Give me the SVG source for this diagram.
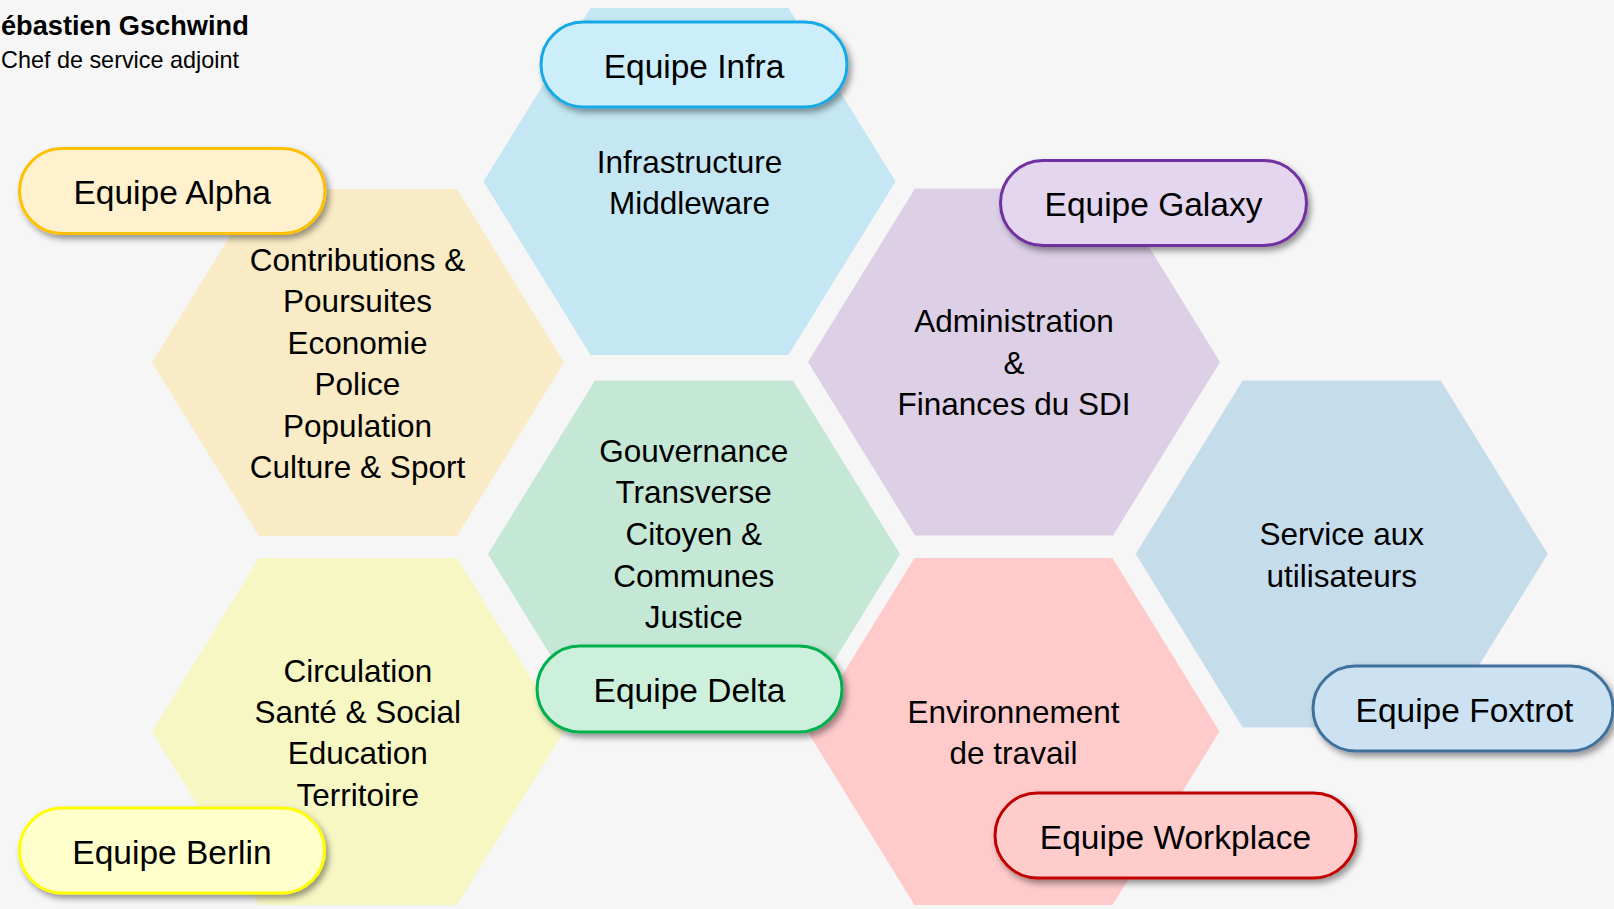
<svg xmlns="http://www.w3.org/2000/svg" xmlns:xlink="http://www.w3.org/1999/xlink" width="1614" height="909" viewBox="0 0 1614 909">
<style>
  .hx-text { font-family: "Liberation Sans", Arial, sans-serif; font-size: 31.5px; fill: #000; text-anchor: middle; }
  .pill-text { font-family: "Liberation Sans", Arial, sans-serif; font-size: 33.5px; fill: #000; text-anchor: middle; }
  .pill { stroke-width: 3; filter: url(#shadow); }
  .title { font-family: "Liberation Sans", Arial, sans-serif; font-size: 27.2px; font-weight: bold; fill: #000; }
  .subtitle { font-family: "Liberation Sans", Arial, sans-serif; font-size: 23.4px; fill: #000; }
</style>
<defs>
  <polygon id="hex" points="-99,-173.5 99,-173.5 206,0 99,173.5 -99,173.5 -206,0"/>
  <filter id="shadow" x="-10%" y="-20%" width="125%" height="150%">
    <feDropShadow dx="3" dy="4" stdDeviation="3" flood-color="#000" flood-opacity="0.4"/>
  </filter>
</defs>
<rect x="0" y="0" width="1614" height="909" fill="#F6F6F6"/>

<g id="header">
  <text class="title" x="1" y="35">ébastien Gschwind</text>
  <text class="subtitle" x="1" y="68">Chef de service adjoint</text>
</g>

<g id="hex-infra">
  <use xlink:href="#hex" href="#hex" x="689.5" y="181.5" fill="#C4E7F3"/>
  <text class="hx-text" x="689.5" y="172.5">Infrastructure</text>
  <text class="hx-text" x="689.5" y="213.5">Middleware</text>
</g>

<g id="hex-alpha">
  <use xlink:href="#hex" href="#hex" x="358" y="362.5" fill="#F8EBC5"/>
  <text class="hx-text" x="357.5" y="270.5">Contributions &amp;</text>
  <text class="hx-text" x="357.5" y="312">Poursuites</text>
  <text class="hx-text" x="357.5" y="353.5">Economie</text>
  <text class="hx-text" x="357.5" y="395">Police</text>
  <text class="hx-text" x="357.5" y="436.5">Population</text>
  <text class="hx-text" x="357.5" y="478">Culture &amp; Sport</text>
</g>

<g id="hex-galaxy">
  <use xlink:href="#hex" href="#hex" x="1014" y="362" fill="#DCCFE6"/>
  <text class="hx-text" x="1014" y="331.5">Administration</text>
  <text class="hx-text" x="1014" y="373.5">&amp;</text>
  <text class="hx-text" x="1014" y="415">Finances du SDI</text>
</g>

<g id="hex-delta">
  <use xlink:href="#hex" href="#hex" x="694" y="554" fill="#C5E7D6"/>
  <text class="hx-text" x="693.7" y="461.5">Gouvernance</text>
  <text class="hx-text" x="693.7" y="503">Transverse</text>
  <text class="hx-text" x="693.7" y="545">Citoyen &amp;</text>
  <text class="hx-text" x="693.7" y="586.5">Communes</text>
  <text class="hx-text" x="693.7" y="628">Justice</text>
</g>

<g id="hex-foxtrot">
  <use xlink:href="#hex" href="#hex" x="1341.7" y="554" fill="#C5DCEB"/>
  <text class="hx-text" x="1341.7" y="545">Service aux</text>
  <text class="hx-text" x="1341.7" y="586.5">utilisateurs</text>
</g>

<g id="hex-berlin">
  <use xlink:href="#hex" href="#hex" x="358" y="731.5" fill="#F7F7C4"/>
  <text class="hx-text" x="357.8" y="681.5">Circulation</text>
  <text class="hx-text" x="357.8" y="722.5">Santé &amp; Social</text>
  <text class="hx-text" x="357.8" y="764">Education</text>
  <text class="hx-text" x="357.8" y="805.5">Territoire</text>
</g>

<g id="hex-workplace">
  <use xlink:href="#hex" href="#hex" x="1013.5" y="731.5" fill="#FFCACA"/>
  <text class="hx-text" x="1013.5" y="722.5">Environnement</text>
  <text class="hx-text" x="1013.5" y="764">de travail</text>
</g>

<g id="connectors"></g>

<g id="pill-infra">
  <rect class="pill" x="541" y="22" width="306" height="85" rx="42.5" fill="#CCEEFA" stroke="#14A9E6"/>
  <text class="pill-text" x="694" y="77.5">Equipe Infra</text>
</g>

<g id="pill-alpha">
  <rect class="pill" x="19.5" y="148.5" width="305.5" height="85" rx="42.5" fill="#FFF1CE" stroke="#FFC000"/>
  <text class="pill-text" x="172.2" y="204">Equipe Alpha</text>
</g>

<g id="pill-galaxy">
  <rect class="pill" x="1000.5" y="160.5" width="306" height="85" rx="42.5" fill="#E4D6EE" stroke="#7030A0"/>
  <text class="pill-text" x="1153.5" y="216">Equipe Galaxy</text>
</g>

<g id="pill-delta">
  <rect class="pill" x="537" y="646" width="305" height="86" rx="43" fill="#CCF0DC" stroke="#00B050"/>
  <text class="pill-text" x="689.5" y="702">Equipe Delta</text>
</g>

<g id="pill-foxtrot">
  <rect class="pill" x="1313" y="666" width="300" height="85" rx="42.5" fill="#CCE2F3" stroke="#41719C"/>
  <text class="pill-text" x="1464.5" y="721.5">Equipe Foxtrot</text>
</g>

<g id="pill-berlin">
  <rect class="pill" x="19.5" y="808" width="305" height="85" rx="42.5" fill="#FFFFCC" stroke="#FFFF00"/>
  <text class="pill-text" x="172" y="863.5">Equipe Berlin</text>
</g>

<g id="pill-workplace">
  <rect class="pill" x="995" y="793" width="361" height="85" rx="42.5" fill="#FFCCCC" stroke="#C00000"/>
  <text class="pill-text" x="1175.5" y="848.5">Equipe Workplace</text>
</g>
</svg>
